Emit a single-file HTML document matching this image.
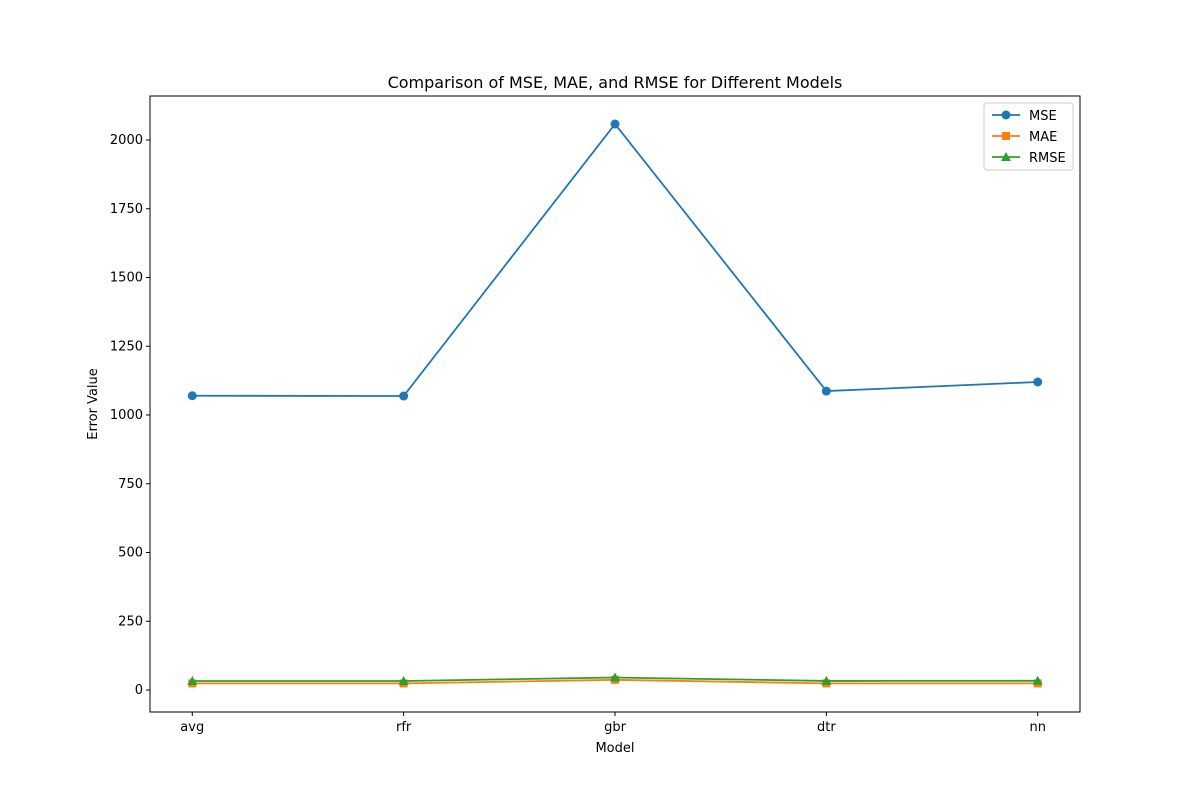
<!DOCTYPE html>
<html><head><meta charset="utf-8"><style>body{margin:0;background:#fff}svg{font-family:"DejaVu Sans","Liberation Sans",sans-serif}</style></head>
<body>
<svg id="chart" width="1200" height="800">
<rect width="1200" height="800" fill="#fff"/>
<text x="615" y="88" text-anchor="middle" font-size="16">Comparison of MSE, MAE, and RMSE for Different Models</text>
<g id="ticks"></g>
<g id="series"></g>
<rect x="150" y="96" width="930" height="616" fill="none" stroke="#000" stroke-width="1"/>
<text x="615" y="752" text-anchor="middle" font-size="13">Model</text>
<text x="97" y="404" text-anchor="middle" font-size="13" transform="rotate(-90 97 404)">Error Value</text>
<g id="legend">
<rect x="984" y="103" width="89" height="67" rx="3" fill="#fff" stroke="#ccc"/>
</g>
</svg>
<script>
const categories=["avg","rfr","gbr","dtr","nn"];
const mse=[1070,1069,2058,1087,1120];
const mae=[24,24,37,24,24];
const rmse=[32.7,32.7,45.4,33,33.5];
const yTicks=[0,250,500,750,1000,1250,1500,1750,2000];
const seriesNames=["MSE","MAE","RMSE"];
const NS="http://www.w3.org/2000/svg";
const L=150,R=1080,T=96,B=712,xmin=-0.2,xmax=categories.length-1+0.2,ymin=-80,ymax=2160;
const xs=i=>L+(i-xmin)/(xmax-xmin)*(R-L);
const ys=v=>B-(v-ymin)/(ymax-ymin)*(B-T);
function mk(tag,attrs,parent){const e=document.createElementNS(NS,tag);for(const k in attrs)e.setAttribute(k,attrs[k]);parent.appendChild(e);return e;}
const tg=document.getElementById('ticks');
yTicks.forEach(v=>{const y=ys(v);
mk('line',{x1:L-4,x2:L,y1:y,y2:y,stroke:'#000'},tg);
const t=mk('text',{x:L-7,y:y+4,'text-anchor':'end','font-size':13},tg);t.textContent=v;

});
categories.forEach((c,i)=>{const x=xs(i);
mk('line',{x1:x,x2:x,y1:B,y2:B+4,stroke:'#000'},tg);
const t=mk('text',{x:x,y:B+19,'text-anchor':'middle','font-size':13},tg);t.textContent=c;

});
const sg=document.getElementById('series');
const cols=["#1f77b4","#ff7f0e","#2ca02c"];
function marker(kind,x,y,col,p){
 if(kind==0)return mk('circle',{cx:x,cy:y,r:4.5,fill:col},p);
 if(kind==1)return mk('rect',{x:x-4,y:y-4,width:8,height:8,fill:col},p);
 return mk('polygon',{points:`${x},${y-5} ${x-5},${y+4} ${x+5},${y+4}`,fill:col},p);}
[mse,mae,rmse].forEach((arr,k)=>{
 const g=mk('g',{},sg);
 
 
 mk('polyline',{points:arr.map((v,i)=>xs(i)+','+ys(v)).join(' '),fill:'none',stroke:cols[k],'stroke-width':1.8},g);
 arr.forEach((v,i)=>{const m=marker(k,xs(i),ys(v),cols[k],g);
 
 });});
const lg=document.getElementById('legend');
seriesNames.forEach((n,k)=>{const y=115+k*21;
 const g=mk('g',{},lg);
 
 
 mk('line',{x1:992,x2:1020,y1:y,y2:y,stroke:cols[k],'stroke-width':1.8},g);
 marker(k,1006,y,cols[k],g);
 const t=mk('text',{x:1029,y:y+5,'font-size':13},g);t.textContent=n;});
</script>
</body></html>
